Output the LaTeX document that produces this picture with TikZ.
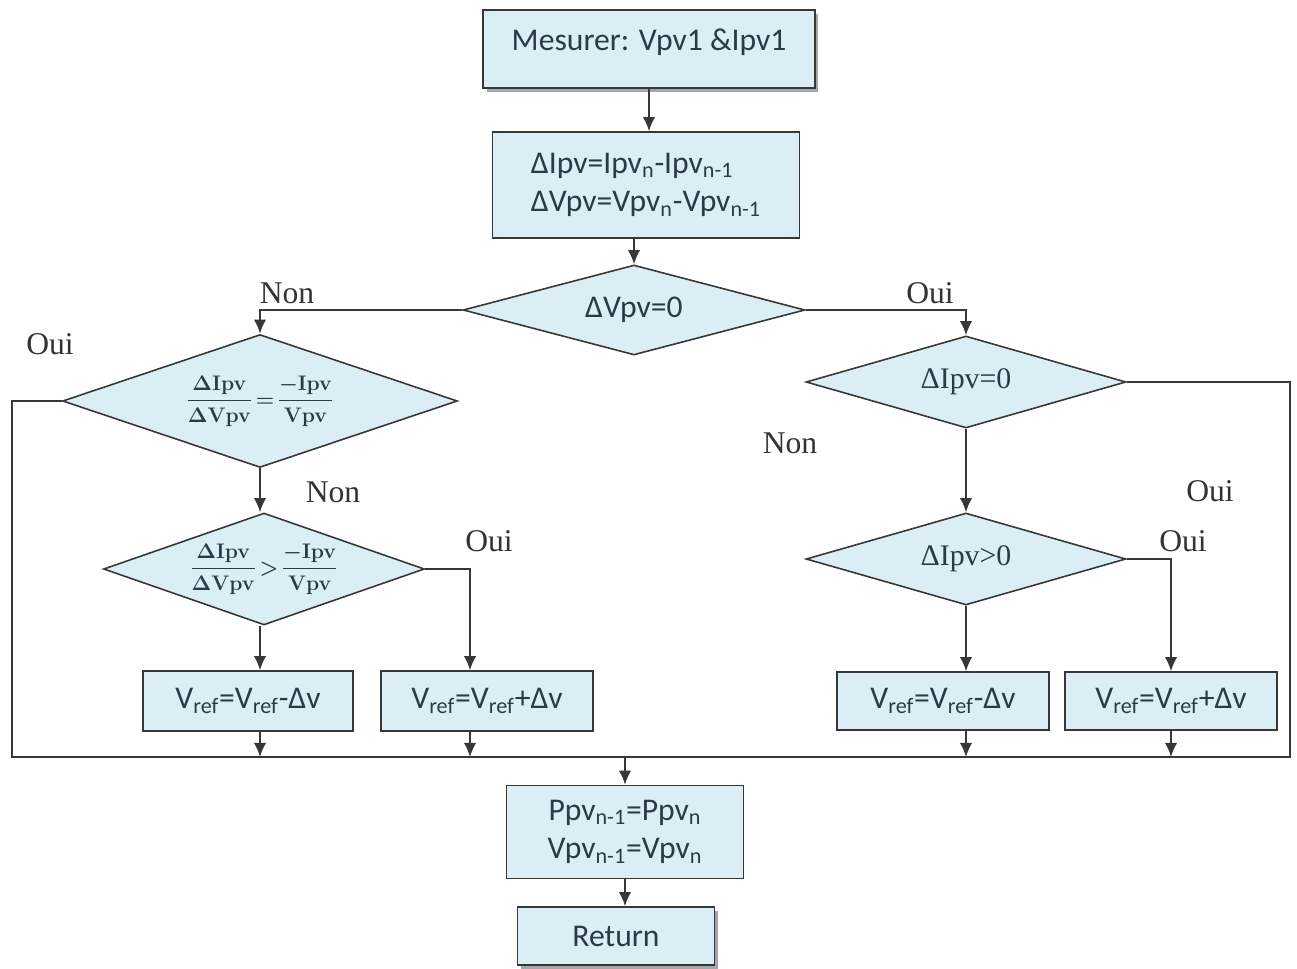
\documentclass[tikz,border=0pt]{standalone}
\usepackage{fontspec}
\setmainfont{Liberation Serif}
\newfontfamily\boxfont{Carlito}
\usetikzlibrary{shapes.geometric,arrows.meta,shadows,positioning}
\definecolor{boxfill}{RGB}{220,238,245}
\definecolor{boxline}{RGB}{55,55,55}
\definecolor{boxtext}{RGB}{45,58,70}
\tikzset{
	proc/.style={draw=boxline, fill=boxfill, line width=0.9pt, text=boxtext, font=\boxfont\fontsize{18}{22}\selectfont, inner sep=0pt},
	decide/.style={diamond, draw=boxline, fill=boxfill, line width=0.9pt, text=boxtext, inner sep=0pt},
	link/.style={draw=boxline, line width=0.9pt},
	arr/.style={link, -{Latex[length=8pt,width=7pt]}},
	lbl/.style={font=\fontsize{18}{20}\selectfont, text=black!80},
	shade/.style={drop shadow={shadow xshift=2pt, shadow yshift=-2pt, fill=gray!70, opacity=1}}
}

\begin{document}
\begin{tikzpicture}[x=0.02cm, y=-0.02cm]
	\useasboundingbox (0,0) rectangle (1297,969);
	\node [proc, shade, minimum width=6.64cm, minimum height=1.56cm, text depth=0.37cm] (mes) at (649,49) {Mesurer: Vpv1 \&Ipv1};
	\node [proc, minimum width=6.14cm, minimum height=2.12cm, align=left] (dif) at (646,185) {ΔIpv=Ipv\textsubscript{n}-Ipv\textsubscript{n-1}\\ΔVpv=Vpv\textsubscript{n}-Vpv\textsubscript{n-1}};
	\node [decide, aspect=3.8, minimum width=6.84cm, minimum height=1.8cm, font=\boxfont\fontsize{18}{20}\selectfont] (dv) at (634,310) {ΔVpv=0};
	\node [decide, aspect=3, minimum width=7.9cm, minimum height=2.66cm, font=\fontsize{11.5}{14}\selectfont\boldmath] (eq) at (260,401) {$\displaystyle\frac{\Delta\mathbf{Ipv}}{\Delta\mathbf{Vpv}}\!=\!\frac{-\mathbf{Ipv}}{\mathbf{Vpv}}$};
	\node [decide, aspect=2.9, minimum width=6.42cm, minimum height=2.24cm, font=\fontsize{11.5}{14}\selectfont\boldmath] (gt) at (264,569) {$\displaystyle\frac{\Delta\mathbf{Ipv}}{\Delta\mathbf{Vpv}}\!>\!\frac{-\mathbf{Ipv}}{\mathbf{Vpv}}$};
	\node [decide, aspect=3.5, minimum width=6.4cm, minimum height=1.84cm, font=\fontsize{17}{20}\selectfont] (di) at (966,382) {ΔIpv=0};
	\node [decide, aspect=3.5, minimum width=6.4cm, minimum height=1.84cm, font=\fontsize{17}{20}\selectfont] (dp) at (966,559) {ΔIpv>0};
	\node [proc, minimum width=4.2cm, minimum height=1.2cm] (ml) at (248,701) {V\textsubscript{ref}=V\textsubscript{ref}-Δv};
	\node [proc, minimum width=4.24cm, minimum height=1.2cm] (pl) at (487,701) {V\textsubscript{ref}=V\textsubscript{ref}+Δv};
	\node [proc, minimum width=4.24cm, minimum height=1.16cm] (mr) at (943,701) {V\textsubscript{ref}=V\textsubscript{ref}-Δv};
	\node [proc, minimum width=4.24cm, minimum height=1.16cm] (pr) at (1171,701) {V\textsubscript{ref}=V\textsubscript{ref}+Δv};
	\node [proc, minimum width=4.74cm, minimum height=1.86cm, align=center] (upd) at (625,832) {Ppv\textsubscript{n-1}=Ppv\textsubscript{n}\\Vpv\textsubscript{n-1}=Vpv\textsubscript{n}};
	\node [proc, shade, minimum width=3.94cm, minimum height=1.16cm] (ret) at (616,936) {Return};

	\coordinate (busL) at (12,757);
	\coordinate (busR) at (1290,757);
	\draw [arr] (mes.south) -- (mes.south |- dif.north);
	\draw [arr] (dv.north |- dif.south) -- (dv.north);
	\draw [arr] (dv.west) -| (eq.north);
	\draw [arr] (dv.east) -| (di.north);
	\draw [link] (eq.west) -| (busL) -- (busR) |- (di.east);
	\draw [arr] (eq.south) -- (eq.south |- gt.north);
	\draw [arr] (eq.south |- gt.south) -- (eq.south |- ml.north);
	\draw [arr] (gt.east) -| ([xshift=-0.34cm]pl.north);
	\draw [arr] (di.south) -- (dp.north);
	\draw [arr] (dp.south) -- (dp.south |- mr.north);
	\draw [arr] (dp.east) -| (pr.north);
	\draw [arr] (eq.south |- ml.south) -- (eq.south |- busL);
	\draw [arr] ([xshift=-0.34cm]pl.south) -- ([xshift=-0.34cm]pl.south |- busL);
	\draw [arr] (dp.south |- mr.south) -- (dp.south |- busL);
	\draw [arr] (pr.south) -- (pr.south |- busL);
	\draw [arr] (upd.north |- busL) -- (upd.north);
	\draw [arr] (upd.south) -- (upd.south |- ret.north);

	\node [lbl] (nonA) at (287,293) {Non};
	\node [lbl] (ouiA) at (930,293) {Oui};
	\node [lbl] (ouiB) at (50,344) {Oui};
	\node [lbl] (nonB) at (333,492) {Non};
	\node [lbl] (ouiC) at (489,541) {Oui};
	\node [lbl] (nonC) at (790,443) {Non};
	\node [lbl] (ouiD) at (1210,491) {Oui};
	\node [lbl] (ouiE) at (1183,541) {Oui};
\end{tikzpicture}
\end{document}
